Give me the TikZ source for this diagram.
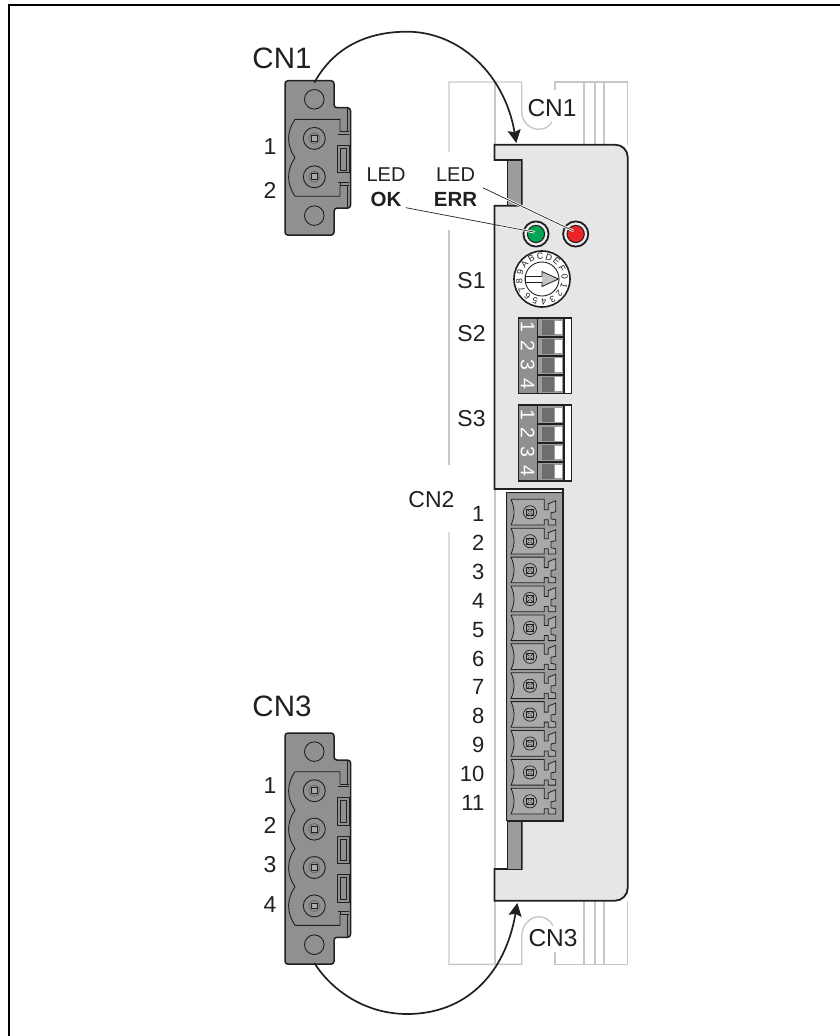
\documentclass[tikz,border=0pt]{standalone}
\usepackage{fontspec}
\setmainfont{Liberation Sans}
\usetikzlibrary{arrows.meta}
\definecolor{plug}{HTML}{8F9092}
\definecolor{panelfill}{HTML}{E5E6E8}
\definecolor{strip}{HTML}{9B9C9E}
\definecolor{module}{HTML}{A8A9AB}
\definecolor{housing}{HTML}{C6C7C9}
\definecolor{ink}{HTML}{231F20}
\definecolor{dipdark}{HTML}{6E6E70}
\definecolor{ledgreen}{HTML}{00A651}
\definecolor{ledred}{HTML}{ED2328}
\tikzset{
  x=1pt,y=-1pt,
  every node/.style={text=ink,inner sep=0pt},
  lbl/.style={font=\fontsize{23}{25}\selectfont},
  lblnum/.style={font=\fontsize{22}{24}\selectfont},
  big/.style={font=\fontsize{29.5}{31}\selectfont},
  mid/.style={font=\fontsize{24.5}{26}\selectfont},
  small/.style={font=\fontsize{20}{22}\selectfont},
  smallb/.style={font=\bfseries\fontsize{20.5}{22}\selectfont},
  housingline/.style={draw=housing,line width=1.4pt},
  plugline/.style={draw=ink,line width=.9pt},
  curve/.style={draw=ink,line width=1.7pt},
  leader/.style={draw=ink,line width=.7pt},
  halo/.style={draw=white,line width=2.4pt},
  ringline/.style={draw=ink,line width=1.8pt},
}
\newcommand{\screw}[2]{%
  \draw[plugline] (#1,#2) circle (11);
  \draw[draw=ink!75,line width=.5pt] (#1,#2) circle (5.6);
  \draw[draw=ink,line width=1pt,fill=module] (#1-2.9,#2-2.9) rectangle (#1+2.9,#2+2.9);
}
% large plug, local y = 0 at top of body; #1 = number of poles
\newcommand{\bigplug}[1]{%
  \pgfmathsetmacro{\bb}{38.7+#1*38.4}
  \draw[draw=ink,line width=1.5pt,fill=plug,rounded corners=3] (285,0)--(334,0)--(334,27)--(350.5,27)--(350.5,\bb+12)--(334,\bb+12)--(334,\bb+38.9)--(285,\bb+38.9)--cycle;
  \draw[plugline] (314.3,18.6) circle (9.8);
  \draw[plugline] (314.3,\bb+19.4) circle (9.8);
  \draw[plugline] (347.5,27.5)--(347.5,\bb+11.5);
  % inner outline with wavy left side
  \draw[plugline] (340,51)--(340,38.7)--(295,38.7)
    \foreach \i in {1,...,#1} { .. controls ({295-8.5},{38.7+(\i-1)*38.4+12}) and ({295-8.5},{38.7+(\i-1)*38.4+26}) .. (295,{38.7+\i*38.4}) }
    --(340,\bb)--(340,\bb-12.5);
  % upper and lower tab
  \fill[plug] (337.7,51) rectangle (349,\bb-11);
  \draw[plugline] (340,51)--(349,51) (337.7,53.5)--(349,53.5);
  \draw[plugline] (337.7,\bb-13.5)--(349,\bb-13.5) (340,\bb-11)--(349,\bb-11);
  \draw[plugline] (340,\bb-13.5)--(340,\bb-11);
  \foreach \i in {1,...,#1} {
    \pgfmathsetmacro{\yc}{38.7+19+(\i-1)*38.4}
    \screw{314.3}{\yc}
  }
  \pgfmathtruncatemacro{\nrect}{#1-1}
  \foreach \i in {1,...,\nrect} {
    \pgfmathsetmacro{\yt}{38.7+19+(\i-1)*38.4+7}
    \draw[plugline] (337.7,\yt) rectangle (349,\yt+27.5);
    \draw[draw=ink,line width=.5pt] (340.5,\yt+3) rectangle (346.5,\yt+24.5);
    \draw[plugline] (337.7,\yt+27.5)--(349,\yt+27.5);
  }
}
\begin{document}
\begin{tikzpicture}
\useasboundingbox (0,0) rectangle (840,1036);
% frame: only the top and left edges lie in the picture
\coordinate (fb) at (9,1036);
\coordinate (fc) at (9,5);
\coordinate (fr) at (840,5);
\draw[draw=black,line width=1.5pt] (fb)--(fc)--(fr);
% housing
\draw[housingline] (449,152)--(449,82)--(521.7,82)--(521.7,111.7) .. controls (521.7,122) and (530,129.3) .. (539,129.3) .. controls (545,129.3) and (549,126.5) .. (552,121.7);
\draw[housingline] (555,90)--(555,82)--(627.5,82)--(627.5,145);
\draw[housingline] (449,230)--(449,465);
\draw[housingline] (449,532)--(449,964.4)--(521.7,964.4)--(521.7,936.7) .. controls (521.7,925) and (530,916.7) .. (539,916.7) .. controls (545,916.7) and (550,920) .. (553,925.7);
\draw[housingline] (555,951.7)--(555,964.4)--(627.5,964.4)--(627.5,901);
\draw[housingline] (494.8,82)--(494.8,145);
\draw[housingline] (494.8,489)--(494.8,869);
\draw[housingline] (494.8,901)--(494.8,964.4);
\foreach \x in {584,595,604} {\draw[housingline] (\x,82)--(\x,145); \draw[housingline] (\x,901)--(\x,964.4);}
% panel
\draw[draw=ink,line width=1.8pt,fill=panelfill,line join=miter] (494.5,144.7)--(615,144.7) .. controls (622,144.7) and (627.7,150) .. (627.7,157)--(627.7,888) .. controls (627.7,895) and (622,900.7) .. (615,900.7)--(494.5,900.7)--(494.5,869)--(521.7,869)--(521.7,821)--(563,821)--(563,489)--(494.5,489)--(494.5,205.7)--(521.7,205.7)--(521.7,160)--(494.5,160)--cycle;
\draw[draw=ink,line width=1.4pt,fill=strip] (507.7,160)--(521.7,160)--(521.7,205.7)--(507.7,205.7)--cycle;
\draw[draw=ink,line width=1.4pt,fill=strip] (507.7,869)--(507.7,821)--(521.7,821)--(521.7,869);
% CN2 block
\fill[plug] (506.7,492.7) rectangle (563,821);
\draw[draw=ink,line width=1.2pt] (506.7,821)--(506.7,492.7)--(562,492.7);
\draw[draw=ink,line width=1.8pt] (506.7,821)--(563,821)--(563,489);
\fill[strip] (508,494) rectangle (561.5,819.5);
\foreach \i in {0,...,10} {
  \pgfmathsetmacro{\yy}{499.3+\i*28.9}
  \pgfmathsetmacro{\ym}{\yy+13}
  \draw[draw=ink,line width=.8pt,fill=module] (511,\yy)--(544.3,\yy)--(544.3,\yy+10.5)--(548.3,\yy+10.5)--(548.3,\yy+4.5)--(555.7,\yy+1.5)--(555.7,\yy+12.5)--(551,\yy+13.5)--(551,\yy+19.5)--(555.7,\yy+20.5)--(555.7,\yy+25.7)--(548.3,\yy+25.7)--(548.3,\yy+20.5)--(544.3,\yy+20.5)--(544.3,\yy+25.7)--(511,\yy+25.7) .. controls (515,\yy+17) and (515,\yy+9) .. (511,\yy)--cycle;
  \draw[draw=ink,line width=.7pt] (530,\ym) circle (6.6);
  \draw[draw=ink,line width=.9pt] (526.9,\ym-3.1) rectangle (533.1,\ym+3.1);
  \draw[draw=ink,line width=.5pt] (526.9,\ym-3.1)--(533.1,\ym+3.1) (526.9,\ym+3.1)--(533.1,\ym-3.1);
  \fill[module] (530,\ym) circle (1.1);
}
% LEDs
\foreach \xx/\cc in {536/ledgreen,575.7/ledred} {
  \draw[ringline,fill=panelfill!70!white] (\xx,234) circle (12.6);
  \draw[draw=ink,line width=1pt,fill=\cc] (\xx,234) circle (8.6);
}
% rotary switch
\draw[draw=ink,line width=1.6pt,fill=white] (542,279) circle (28);
\draw[draw=ink,line width=.9pt,fill=white] (542,279) circle (17);
\foreach \c [count=\i from 0] in {0,1,2,3,4,5,6,7,8,9,A,B,C,D,E,F} {
  \pgfmathsetmacro{\ang}{22.5*\i-5}
  \node[font=\fontsize{9}{10}\selectfont,rotate={-\ang-90}] at ({542+22.8*cos(\ang)},{279+22.8*sin(\ang)}) {\c};
}
\draw[draw=ink,line width=.7pt,fill=white] (525,276)--(542,276)--(542,282)--(525,282)--cycle;
\draw[draw=ink,line width=.8pt,fill=module!70!white] (542,276)--(542,271.5)--(558.5,279)--(542,286.5)--(542,282);
% DIP switches
\foreach \y in {317.7,405} {
  \fill[ink] (518.5,\y) rectangle (571.7,\y+76);
  \fill[white] (564.5,\y+1) rectangle (570.9,\y+75);
  \draw[draw=ink,line width=1.1pt] (518.5,\y) rectangle (571.7,\y+76);
  \fill[plug] (519.3,\y+.8) rectangle (537,\y+75.2);
  \foreach \i in {1,2,3,4} {
    \pgfmathsetmacro{\yy}{\y+1.4+(\i-1)*18.9}
    \fill[strip] (537.8,\yy) rectangle (563,\yy+16.9);
    \fill[dipdark] (542.3,\yy+1.2) rectangle (554,\yy+15.7);
    \fill[white] (555,\yy+1.5) rectangle (562.3,\yy+15.2);
    \node[rotate=-90,text=white,font=\fontsize{19.5}{20}\selectfont] at (527.7,\yy+8.1) {\i};
  }
}
% CN1 and CN3 plugs
\begin{scope}[shift={(0,80.7)}]
  \bigplug{2}
\end{scope}
\begin{scope}[shift={(0,733)}]
  \bigplug{4}
\end{scope}
% curved arrows
\coordinate (c1a) at (314.3,82.7);
\coordinate (c1m) at (407,31.7);
\coordinate (c1b) at (516.3,143);
\coordinate (c3a) at (314.3,963);
\coordinate (c3m) at (407,1014);
\coordinate (c3b) at (517.3,903);
\draw[curve,-{Stealth[length=13pt,width=13pt,inset=2pt]}] (c1a) .. controls (335,45) and (370,31.7) .. (c1m) .. controls (460,31.7) and (505,75) .. (c1b);
\draw[curve,-{Stealth[length=13pt,width=13pt,inset=2pt]}] (c3a) .. controls (335,995) and (370,1014) .. (c3m) .. controls (465,1014) and (505,975) .. (c3b);
% LED leaders
\coordinate (ok0) at (406,207.7);
\coordinate (okm) at (499,225.4);
\coordinate (ok1) at (535,232.3);
\coordinate (er0) at (482.7,187.7);
\coordinate (erm) at (503,197.4);
\coordinate (er1) at (573.5,231);
\draw[halo] (okm)--(ok1);
\draw[halo] (erm)--(er1);
\draw[leader] (ok0)--(ok1);
\draw[leader] (er0)--(er1);
% labels
\node[big] (tcn1) at (282,58) {CN1};
\node[big] (tcn3) at (282,706) {CN3};
\node[lbl] at (270,147) {1};
\node[lbl] at (270,190) {2};
\node[lbl] at (270,786) {1};
\node[lbl] at (270,825.5) {2};
\node[lbl] at (270,865) {3};
\node[lbl] at (270,905) {4};
\node[mid] at (552,108) {CN1};
\node[mid] at (553,938.5) {CN3};
\node[small] at (386,175) {LED};
\node[smallb] at (386,199.5) {OK};
\node[small] at (455.5,175) {LED};
\node[smallb] at (455.5,199.5) {ERR};
\node[lbl] at (471.5,281) {S1};
\node[lbl] at (471.5,334) {S2};
\node[lbl] at (471.5,418.5) {S3};
\node[lbl] at (431.5,500) {CN2};
\foreach \n [count=\i from 0] in {1,...,11} {
  \pgfmathsetmacro{\yy}{514+\i*28.9}
  \node[lblnum,anchor=east] at (484.5,\yy) {\n};
}
\end{tikzpicture}
\end{document}
